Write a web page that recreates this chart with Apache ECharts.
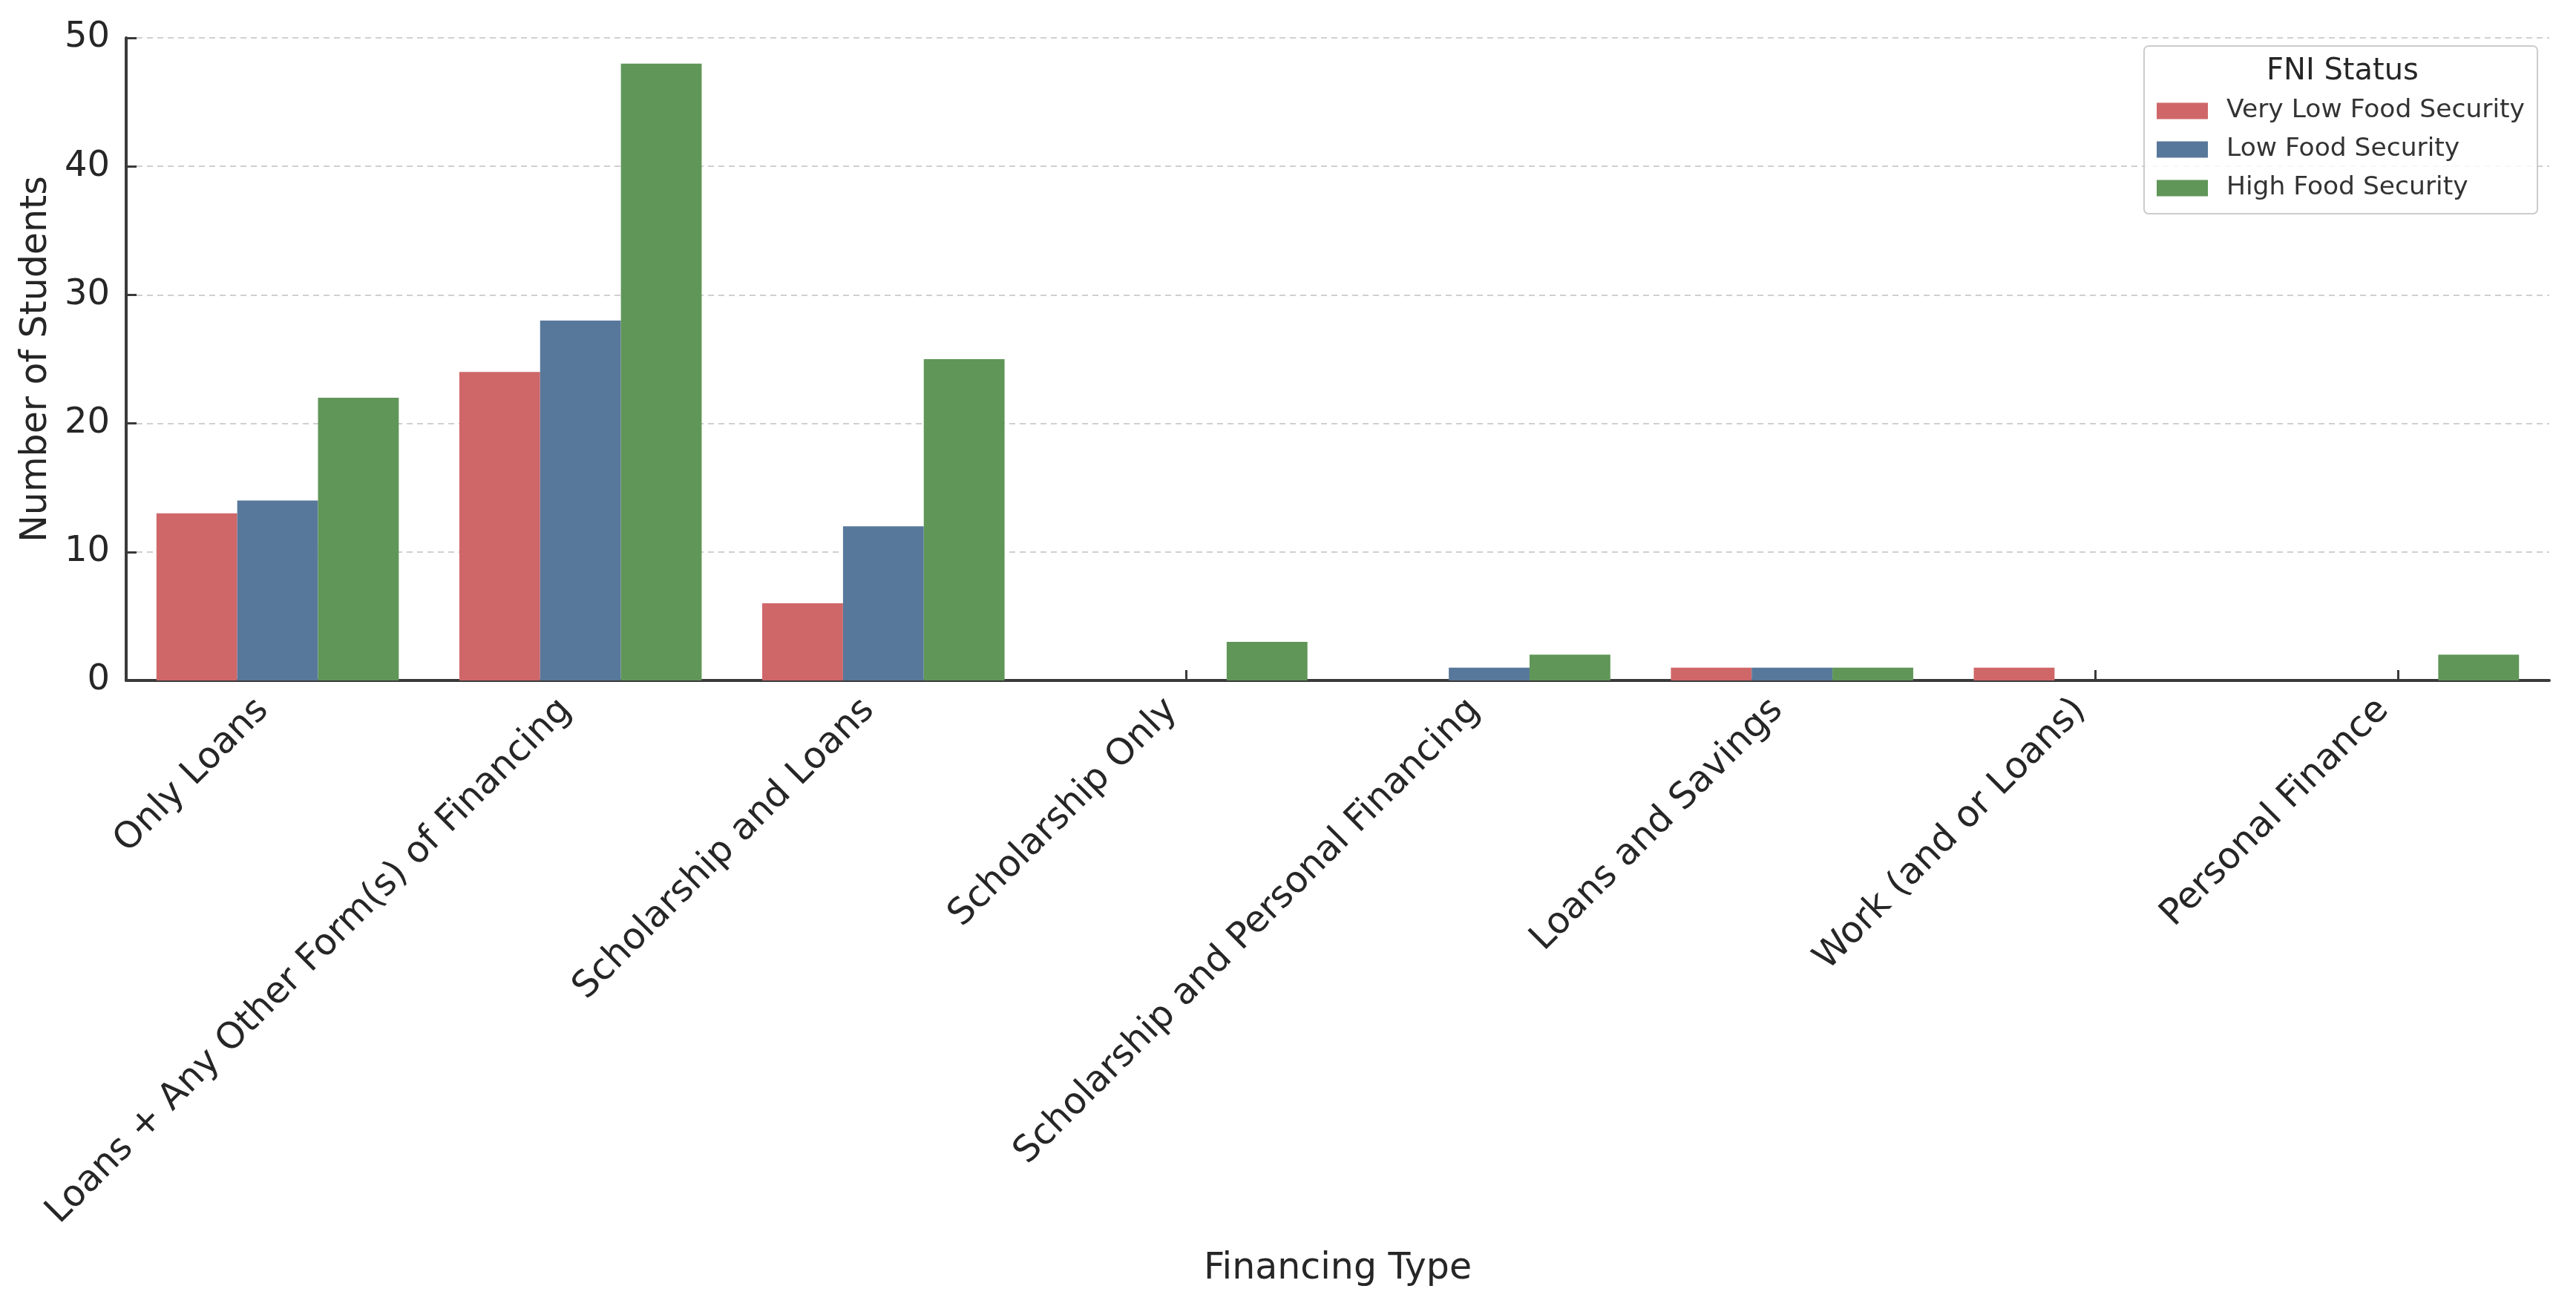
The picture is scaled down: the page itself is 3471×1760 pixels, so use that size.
<!DOCTYPE html>
<html><head><meta charset="utf-8">
<script src="https://cdn.jsdelivr.net/npm/echarts@6/dist/echarts.min.js"></script>
<style>html,body{margin:0;padding:0;background:#fff}#c{width:3471px;height:1760px}</style>
</head><body><div id="c"></div>
<script>
const categories = ["Only Loans","Loans + Any Other Form(s) of Financing","Scholarship and Loans","Scholarship Only","Scholarship and Personal Financing","Loans and Savings","Work (and or Loans)","Personal Finance"];
const veryLow = [13, 24, 6, 0, 0, 1, 1, 0];
const low = [14, 28, 12, 0, 1, 1, 0, 0];
const high = [22, 48, 25, 3, 2, 1, 0, 2];
const seriesNames = ["Very Low Food Security","Low Food Security","High Food Security"];
const colors = ["#cf6769","#58789b","#609658"];
const yTicks = [0,10,20,30,40,50];

const FONT = "DejaVu Sans";
const TXT = "#262626";
const chart = echarts.init(document.getElementById('c'), null, {renderer:'canvas'});
const values = [veryLow, low, high];
chart.setOption({
  animation:false,
  backgroundColor:'#ffffff',
  textStyle:{fontFamily:FONT},
  grid:{left:170, right:36, top:51, bottom:843, containLabel:false},
  xAxis:{
    type:'category', data:categories,
    name:'Financing Type', nameLocation:'middle', nameGap:769,
    nameTextStyle:{fontSize:49, color:TXT, fontFamily:FONT},
    axisLine:{lineStyle:{color:'#3a3a3a', width:4}},
    axisTick:{show:true, inside:true, length:14, alignWithLabel:true, lineStyle:{color:'#3a3a3a', width:3}},
    axisLabel:{rotate:45, fontSize:49, color:TXT, fontFamily:FONT, margin:13, interval:0, padding:[0,28,0,0]},
    splitLine:{show:false}
  },
  yAxis:{
    type:'value', min:yTicks[0], max:yTicks[yTicks.length-1], interval:10,
    name:'Number of Students', nameLocation:'middle', nameGap:96,
    nameTextStyle:{fontSize:49, color:TXT, fontFamily:FONT},
    axisLine:{show:true, lineStyle:{color:'#3a3a3a', width:4}},
    axisTick:{show:true, inside:true, length:14, lineStyle:{color:'#3a3a3a', width:3}},
    axisLabel:{fontSize:48, color:TXT, fontFamily:FONT, margin:22},
    splitLine:{show:true, lineStyle:{color:'#d0d0d0', width:2, type:[8,6]}}
  },
  legend:{
    right:52, top:62, orient:'vertical',
    data:seriesNames,
    itemWidth:69, itemHeight:22, itemGap:17,
    padding:[70,17,17,17],
    borderColor:'#cccccc', borderWidth:2, borderRadius:6,
    backgroundColor:'rgba(255,255,255,0.85)',
    icon:'rect',
    textStyle:{fontSize:34.5, color:'#333333', fontFamily:FONT, lineHeight:34, padding:[0,0,0,20]}
  },
  graphic:[{type:'text', left:3154-100, top:77, z:100,
    style:{text:'FNI Status', x:0, y:0, fontSize:40, fill:TXT, fontFamily:FONT, width:200, align:'center'}}],
  series: seriesNames.map((n,i)=>({
    name:n, type:'bar', data:values[i],
    barWidth:'26.67%', barGap:'0%', barCategoryGap:'20%',
    itemStyle:{color:colors[i]}
  }))
});
</script></body></html>
